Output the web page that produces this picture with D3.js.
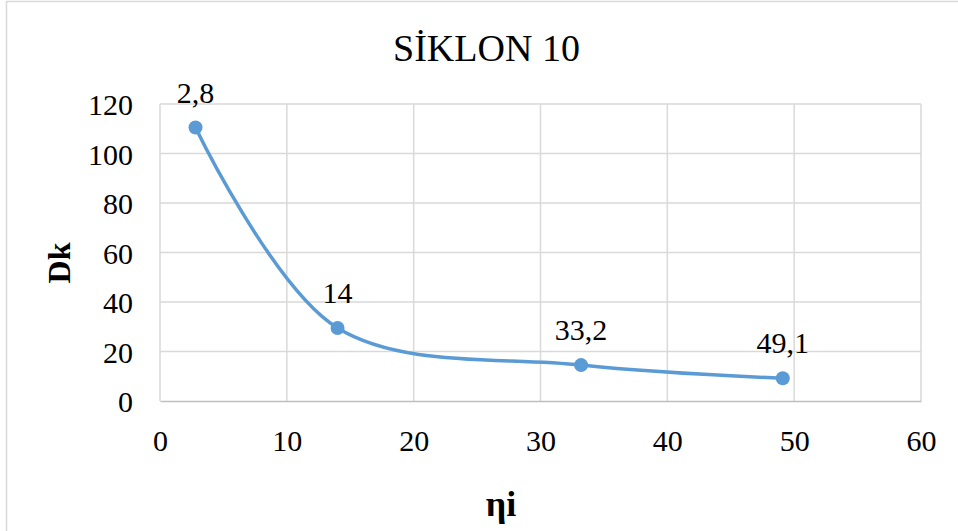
<!DOCTYPE html>
<html>
<head>
<meta charset="utf-8">
<script src="https://cdn.jsdelivr.net/npm/d3@7"></script>
<style>
  html, body { margin: 0; padding: 0; background: #fff; }
  svg { display: block; }
  text { font-family: "Liberation Serif", "Times New Roman", serif; fill: #000; }
</style>
</head>
<body>
<svg id="chart" width="958" height="531"></svg>
<script>
const title = "SİKLON 10";
const xLabel = "ηi";
const yLabel = "Dk";
const xValues = [2.8, 14, 33.2, 49.1];
const yValues = [110.5, 29.5, 14.5, 9.2];
const pointLabels = ["2,8", "14", "33,2", "49,1"];
const xTicks = [0, 10, 20, 30, 40, 50, 60];
const yTicks = [0, 20, 40, 60, 80, 100, 120];

const W = 958, H = 531;
const plot = { left: 160, right: 921, top: 104, bottom: 401 };
const svg = d3.select("#chart");

// outer chart border
svg.append("rect")
  .attr("x", 6.5).attr("y", 1.5)
  .attr("width", W + 10).attr("height", H + 10)
  .attr("fill", "none").attr("stroke", "#d9d9d9").attr("stroke-width", 1.5);

const x = d3.scaleLinear().domain([0, 60]).range([plot.left, plot.right]);
const y = d3.scaleLinear().domain([0, 120]).range([plot.bottom, plot.top]);

// gridlines
const grid = svg.append("g");
grid.selectAll("line.h").data(yTicks.filter(d => d > 0)).join("line")
  .attr("x1", plot.left).attr("x2", plot.right)
  .attr("y1", d => y(d)).attr("y2", d => y(d))
  .attr("stroke", "#d9d9d9").attr("stroke-width", 1.5);
grid.selectAll("line.v").data(xTicks).join("line")
  .attr("x1", d => x(d)).attr("x2", d => x(d))
  .attr("y1", plot.top).attr("y2", plot.bottom)
  .attr("stroke", "#d9d9d9").attr("stroke-width", 1.5);

// x axis
const xAxis = svg.append("g")
  .attr("transform", `translate(0,${plot.bottom})`)
  .call(d3.axisBottom(x).tickValues(xTicks).tickSize(0).tickPadding(0).tickFormat(d3.format("d")));
xAxis.attr("font-family", null);
xAxis.select(".domain").attr("stroke", "#bfbfbf").attr("stroke-width", 1.5);
xAxis.selectAll(".tick text")
  .attr("y", 50).attr("dy", null)
  .style("font-family", "'Liberation Serif', serif")
  .style("font-size", "30px").attr("fill", "#000");

// y axis
const yAxis = svg.append("g")
  .attr("transform", `translate(${plot.left},0)`)
  .call(d3.axisLeft(y).tickValues(yTicks).tickSize(0).tickPadding(27).tickFormat(d3.format("d")));
yAxis.attr("font-family", null);
yAxis.select(".domain").remove();
yAxis.selectAll(".tick text")
  .attr("dy", "0.35em")
  .style("font-family", "'Liberation Serif', serif")
  .style("font-size", "30px").attr("fill", "#000");

// line
const pts = xValues.map((v, i) => [v, yValues[i]]);
const line = d3.line().x(d => x(d[0])).y(d => y(d[1])).curve(d3.curveCatmullRom.alpha(0.5));
svg.append("path").datum(pts)
  .attr("d", line)
  .attr("fill", "none").attr("stroke", "#5b9bd5").attr("stroke-width", 3.5)
  .attr("stroke-linecap", "round");

svg.append("g").selectAll("circle").data(pts).join("circle")
  .attr("cx", d => x(d[0])).attr("cy", d => y(d[1])).attr("r", 7)
  .attr("fill", "#5b9bd5");

// data labels
svg.append("g").selectAll("text").data(pts).join("text")
  .attr("x", d => x(d[0])).attr("y", d => y(d[1]) - 25)
  .attr("text-anchor", "middle")
  .style("font-size", "30px")
  .text((d, i) => pointLabels[i]);

// title
svg.append("text")
  .attr("x", 486.5).attr("y", 61)
  .attr("text-anchor", "middle")
  .style("font-size", "38px")
  .text(title);

// axis titles
svg.append("text")
  .attr("transform", "translate(70,263) rotate(-90)")
  .attr("text-anchor", "middle")
  .style("font-size", "32px").style("font-weight", "bold")
  .text(yLabel);

svg.append("text")
  .attr("x", 501).attr("y", 516)
  .attr("text-anchor", "middle")
  .style("font-size", "36px").style("font-weight", "bold")
  .text(xLabel);
</script>
</body>
</html>
